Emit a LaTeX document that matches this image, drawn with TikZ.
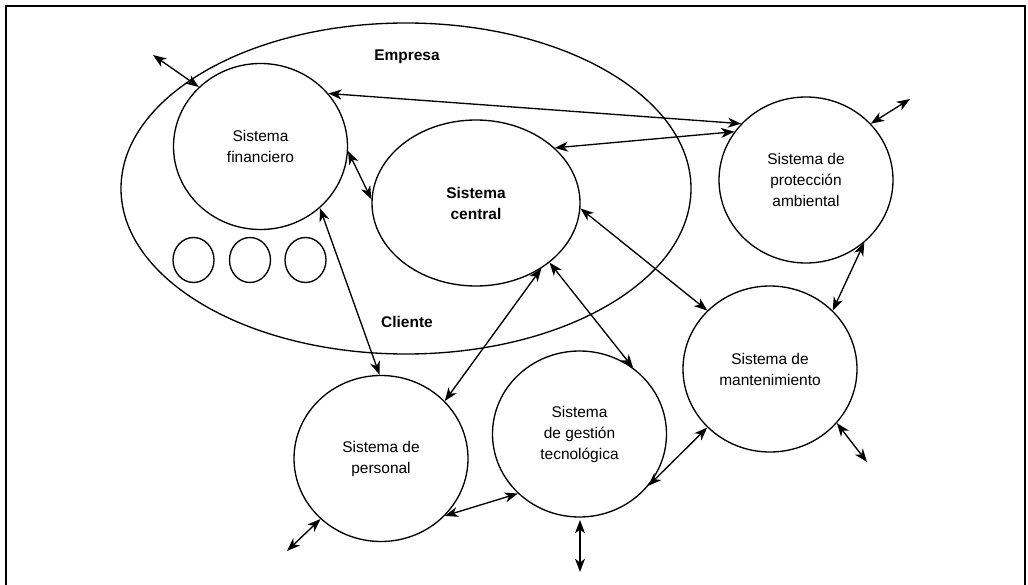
\documentclass[tikz,border=0pt]{standalone}
\usepackage{fontspec}
\setmainfont{Liberation Sans}
\usetikzlibrary{shapes.geometric,arrows.meta}
\begin{document}
\begin{tikzpicture}[x=0.75pt,y=-0.75pt,
  every node/.style={font=\fontsize{11.6pt}{15.75pt}\selectfont},
  sys/.style={draw, ellipse, line width=1pt, align=center, minimum width=130.5pt, minimum height=124.5pt, inner sep=0pt},
  smallc/.style={draw, ellipse, line width=1pt, minimum width=30.75pt, minimum height=33.75pt, inner sep=0pt},
  biarrow/.style={line width=1pt, {Stealth[length=10pt,width=7.5pt,inset=3pt]}-{Stealth[length=10pt,width=7.5pt,inset=3pt]}},
  lbl/.style={font=\fontsize{11.6pt}{15.75pt}\selectfont\bfseries}
]
\useasboundingbox (0,0) rectangle (1028,585);
\draw[line width=2pt] (6,590) -- (6,6) -- (1025,6) -- (1025,590);

\node[draw, ellipse, line width=1pt, minimum width=427.5pt, minimum height=248.25pt, inner sep=0pt] (emp) at (406,188.5) {};
\node[lbl] (empresa) at (407,57) {Empresa};
\node[lbl] (cliente) at (407,322) {Cliente};

\node[sys] (fin) at (260.5,146.5) {Sistema\\financiero};
\node[sys, minimum width=156pt, font=\fontsize{11.6pt}{15.75pt}\selectfont\bfseries] (cen) at (476,203) {Sistema\\central};
\node[sys] (prot) at (806,180) {Sistema de\\protección\\ambiental};
\node[sys] (mant) at (770,369) {Sistema de\\mantenimiento};
\node[sys] (pers) at (381,458.5) {Sistema de\\personal};
\node[sys] (ges) at (579.5,434) {Sistema\\de gestión\\tecnológica};

\node[smallc] (s1) at (193.5,260) {};
\node[smallc] (s2) at (250,260) {};
\node[smallc] (s3) at (305.5,260) {};

\coordinate (f1) at (153,55);
\coordinate (p1) at (910,99);
\coordinate (m1) at (867,462);
\coordinate (g1) at (580,572);
\coordinate (g0) at (580,520);
\coordinate (q1) at (287,551);

\draw[biarrow] (f1) -- (fin.136);
\draw[biarrow] (fin.38) -- (prot.139);
\draw[biarrow] (cen.35) -- (prot.146);
\draw[biarrow] (fin.-3) -- (cen.178);
\draw[biarrow] (fin.-46) -- (pers.91);
\draw[biarrow] (cen.-45) -- (pers.42);
\draw[biarrow] (cen.-39) -- (ges.51);
\draw[biarrow] (cen.-3) -- (mant.137);
\draw[biarrow] (prot.-47) -- (mant.43);
\draw[biarrow] (prot.41) -- (p1);
\draw[biarrow] (mant.-39) -- (m1);
\draw[biarrow] (mant.-137) -- (ges.-37);
\draw[biarrow] (g0) -- (g1);
\draw[biarrow] (ges.-136) -- (pers.-42);
\draw[biarrow] (pers.-135) -- (q1);
\end{tikzpicture}
\end{document}
